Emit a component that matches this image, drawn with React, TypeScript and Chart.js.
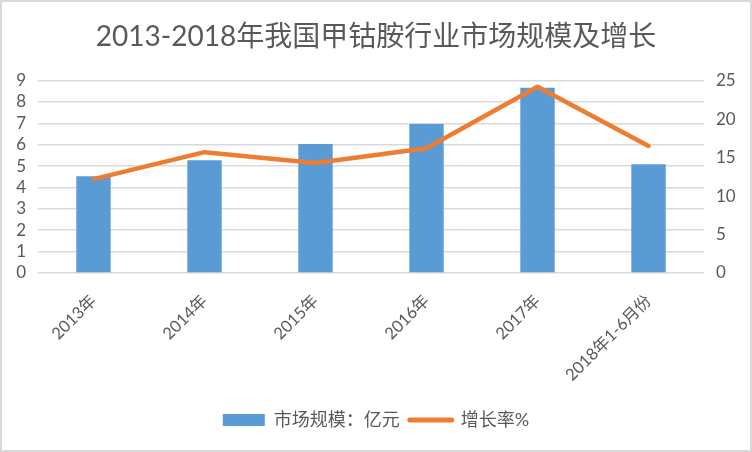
import React, { useEffect, useRef } from "react";
import { Chart, registerables } from "chart.js";

Chart.register(...registerables);

const categories = ["2013年", "2014年", "2015年", "2016年", "2017年", "2018年1-6月份"];
const marketSize = [4.53, 5.28, 6.03, 6.97, 8.66, 5.09];
const growthRate = [12.2, 15.7, 14.3, 16.2, 24.2, 16.5];
const leftTicks = { min: 0, max: 9, step: 1 };
const rightTicks = { min: 0, max: 25, step: 5 };
const seriesNames = ["市场规模：亿元", "增长率%"];
const titleText = "2013-2018年我国甲钴胺行业市场规模及增长";

const FONT = 'Lato, "Noto Sans CJK SC", sans-serif';
const TEXT = "#595959";
const GRID = "#d9d9d9";
const BLUE = "#5B9BD5";
const ORANGE = "#ED7D31";

const borderPlugin = {
  id: "outerBorder",
  afterDraw(chart: any) {
    const ctx = chart.ctx;
    ctx.save();
    ctx.strokeStyle = GRID;
    ctx.lineWidth = 2;
    ctx.strokeRect(1, 1, chart.width - 2, chart.height - 2);
    ctx.restore();
  },
};

export default function App() {
  const ref = useRef<HTMLCanvasElement>(null);
  useEffect(() => {
    document.body.style.margin = "0";
    const chart = new Chart(ref.current as HTMLCanvasElement, {
      type: "bar",
      data: {
        labels: categories,
        datasets: [
          {
            type: "bar",
            label: seriesNames[0],
            data: marketSize,
            backgroundColor: BLUE,
            borderWidth: 0,
            barPercentage: 0.31,
            categoryPercentage: 1,
            yAxisID: "y",
            order: 1,
          } as any,
          {
            type: "line",
            label: seriesNames[1],
            data: growthRate,
            borderColor: ORANGE,
            backgroundColor: ORANGE,
            borderWidth: 4.5,
            borderCapStyle: "round",
            borderJoinStyle: "round",
            pointRadius: 0,
            pointHoverRadius: 0,
            tension: 0,
            yAxisID: "y1",
            order: 0,
          } as any,
        ],
      },
      options: {
        responsive: false,
        animation: false,
        layout: { padding: { top: 0, left: 0, right: 0, bottom: 13 } },
        plugins: {
          title: {
            display: true,
            text: titleText,
            color: TEXT,
            font: { family: FONT, size: 28, weight: "normal" },
            padding: { top: 20, bottom: 27 },
          },
          legend: {
            position: "bottom",
            labels: {
              color: TEXT,
              font: { family: FONT, size: 18 },
              usePointStyle: true,
              pointStyleWidth: 42,
              boxHeight: 12,
              padding: 10,
              sort: (a: any, b: any) => a.datasetIndex - b.datasetIndex,
              generateLabels: (c: any) => {
                const items = (Chart.defaults.plugins.legend.labels as any).generateLabels(c);
                items.forEach((it: any) => {
                  if (it.datasetIndex === 0) {
                    it.pointStyle = "rect";
                    it.lineWidth = 0;
                    it.fillStyle = BLUE;
                  } else {
                    it.pointStyle = "line";
                    it.lineWidth = 5;
                    it.strokeStyle = ORANGE;
                    it.lineCap = "round";
                  }
                });
                return items;
              },
            },
          },
          tooltip: { enabled: false },
        },
        scales: {
          x: {
            grid: { display: false, drawTicks: false },
            border: { display: false },
            ticks: {
              color: TEXT,
              font: { family: FONT, size: 16.5 },
              minRotation: 45,
              maxRotation: 45,
              autoSkip: false,
              padding: 18,
            },
            afterFit: (s: any) => {
              s.height = 128;
            },
          },
          y: {
            position: "left",
            min: leftTicks.min,
            max: leftTicks.max,
            ticks: {
              stepSize: leftTicks.step,
              autoSkip: false,
              color: TEXT,
              font: { family: FONT, size: 17 },
              padding: 12,
            },
            grid: { color: GRID, lineWidth: 1.5, drawTicks: false },
            border: { display: false },
            afterFit: (s: any) => {
              s.width = 38;
            },
          },
          y1: {
            position: "right",
            min: rightTicks.min,
            max: rightTicks.max,
            ticks: {
              stepSize: rightTicks.step,
              autoSkip: false,
              color: TEXT,
              font: { family: FONT, size: 17 },
              padding: 12,
            },
            grid: { display: false, drawTicks: false },
            border: { display: false },
            afterFit: (s: any) => {
              s.width = 48;
            },
          },
        },
      },
      plugins: [borderPlugin],
    } as any);
    return () => chart.destroy();
  }, []);
  return (
    <div style={{ position: "fixed", left: 0, top: 0, width: 752, height: 452, background: "#fff" }}>
      <canvas ref={ref} width={752} height={452} style={{ width: 752, height: 452 }} />
    </div>
  );
}
